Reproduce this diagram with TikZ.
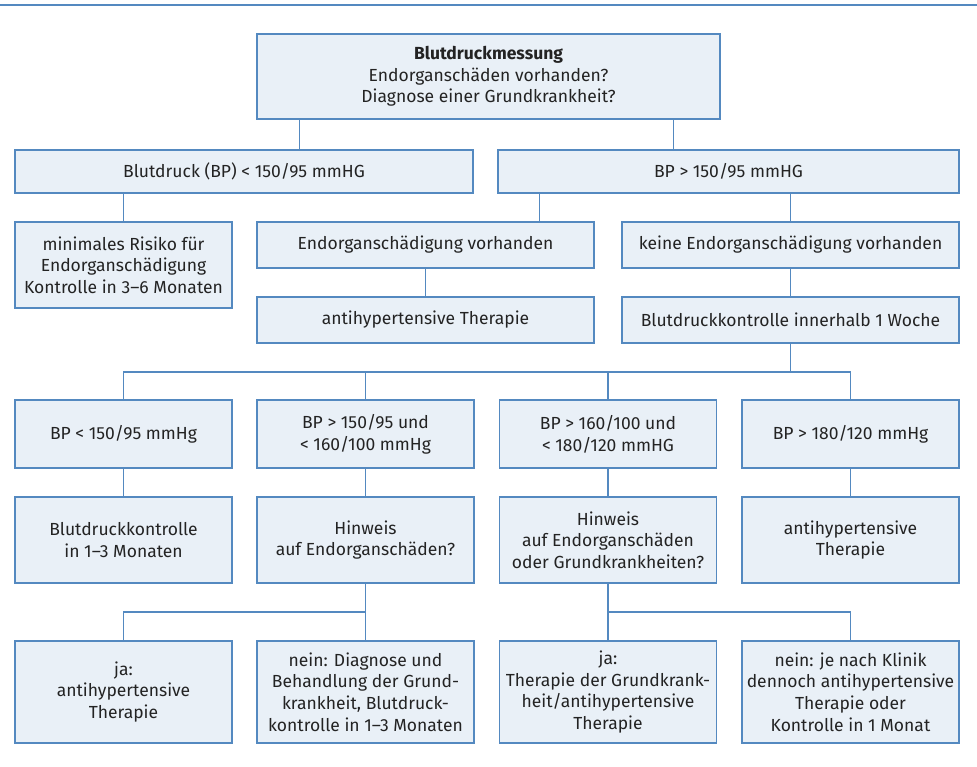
\documentclass[tikz,border=0pt]{standalone}
\usepackage{fontspec}
\setmainfont{Fira Sans}
\usetikzlibrary{positioning}
\definecolor{boxline}{RGB}{84,137,192}
\definecolor{boxfill}{RGB}{233,240,247}
\definecolor{txt}{RGB}{35,35,35}
\begin{document}
\begin{tikzpicture}[x=1pt,y=-1pt]
    \tikzset{box/.style={rectangle,draw=boxline,fill=boxfill,line width=1.2pt,align=center,text=txt,inner sep=0pt,font=\fontsize{17.5}{21.7}\selectfont}}
    \tikzset{small/.style={box,minimum width=217pt}}
    \tikzset{link/.style={draw=boxline,line width=1.2pt}}
    \useasboundingbox (0,0) rectangle (977,767);
    \draw[boxline, line width=1.2pt] (0,5) -- (977,5);

    % top and first split
    \node[box, minimum width=463pt, minimum height=85pt] at (488.5,76.5) (mess) {\textbf{Blutdruckmessung}\\Endorganschäden vorhanden?\\Diagnose einer Grundkrankheit?};
    \node[box, minimum width=458pt, minimum height=43pt] at (244,171.5) (bplow) {Blutdruck (BP) < 150/95 mmHG};
    \node[box, minimum width=461pt, minimum height=43pt] at (728.5,171.5) (bphigh) {BP > 150/95 mmHG};

    \node[small, minimum height=86pt] at (123.5,265) (risk) {minimales Risiko für\\Endorganschädigung\\Kontrolle in 3–6 Monaten};
    \node[box, minimum width=337pt, minimum height=46pt] at (425.5,245) (endo) {Endorganschädigung vorhanden};
    \node[box, minimum width=337pt, minimum height=46pt] at (425.5,320) (ther1) {antihypertensive Therapie};
    \node[box, minimum width=337pt, minimum height=46pt] at (790.5,245) (keine) {keine Endorganschädigung vorhanden};
    \node[box, minimum width=337pt, minimum height=46pt] at (790.5,320) (woche) {Blutdruckkontrolle innerhalb 1 Woche};

    % second split
    \node[small, minimum height=68pt] at (123.5,434) (bpa) {BP < 150/95 mmHg};
    \node[small, minimum height=68pt] at (365.5,434) (bpb) {BP > 150/95 und\\< 160/100 mmHg};
    \node[small, minimum height=68pt] at (608,434) (bpc) {BP > 160/100 und\\< 180/120 mmHG};
    \node[small, minimum height=68pt] at (850.5,434) (bpd) {BP > 180/120 mmHg};

    \node[small, minimum height=86pt] at (123.5,540) (monate) {Blutdruckkontrolle\\in 1–3 Monaten};
    \node[small, minimum height=86pt] at (365.5,540) (hinw1) {Hinweis\\auf Endorganschäden?};
    \node[small, minimum height=86pt] at (608,540) (hinw2) {Hinweis\\auf Endorganschäden\\oder Grundkrankheiten?};
    \node[small, minimum height=86pt] at (850.5,540) (ther2) {antihypertensive\\Therapie};

    \node[small, minimum height=102pt] at (123.5,692) (ja1) {ja:\\antihypertensive\\Therapie};
    \node[small, minimum height=102pt] at (365.5,692) (nein1) {nein: Diagnose und\\Behandlung der Grund-\\krankheit, Blutdruck-\\kontrolle in 1–3 Monaten};
    \node[small, minimum height=102pt] at (608,692) (ja2) {ja:\\Therapie der Grundkrank-\\heit/antihypertensive\\Therapie};
    \node[small, minimum height=102pt] at (850.5,692) (nein2) {nein: je nach Klinik\\dennoch antihypertensive\\Therapie oder\\Kontrolle in 1 Monat};

    \coordinate (bus) at (790.5,372);
    \coordinate (fork1) at (365.5,612);
    \coordinate (fork2) at (608,612);

    \draw[link] ([xshift=43pt]mess.south west) -- ([xshift=43pt]mess.south west |- bplow.north);
    \draw[link] ([xshift=-47pt]mess.south east) -- ([xshift=-47pt]mess.south east |- bphigh.north);
    \draw[link] (risk.north) -- (risk.north |- bplow.south);
    \draw[link] ([xshift=-55pt]endo.north east) -- ([xshift=-55pt]endo.north east |- bphigh.south);
    \draw[link] (keine.north) -- (keine.north |- bphigh.south);
    \draw[link] (endo.south) -- (ther1.north);
    \draw[link] (keine.south) -- (woche.north);
    \draw[link] (woche.south) -- (bus);
    \draw[link] (bpa.north) |- (bus) -| (bpd.north);
    \draw[link] (bpb.north) -- (bpb.north |- bus);
    \draw[link] (bpc.north) -- (bpc.north |- bus);
    \draw[link] (bpa.south) -- (monate.north);
    \draw[link] (bpb.south) -- (hinw1.north);
    \draw[link] (bpc.south) -- (hinw2.north);
    \draw[link] (bpd.south) -- (ther2.north);
    \draw[link] (hinw1.south) -- (nein1.north);
    \draw[link] (ja1.north) |- (fork1);
    \draw[link] (hinw2.south) -- (ja2.north);
    \draw[link] (nein2.north) |- (fork2);
\end{tikzpicture}
\end{document}
